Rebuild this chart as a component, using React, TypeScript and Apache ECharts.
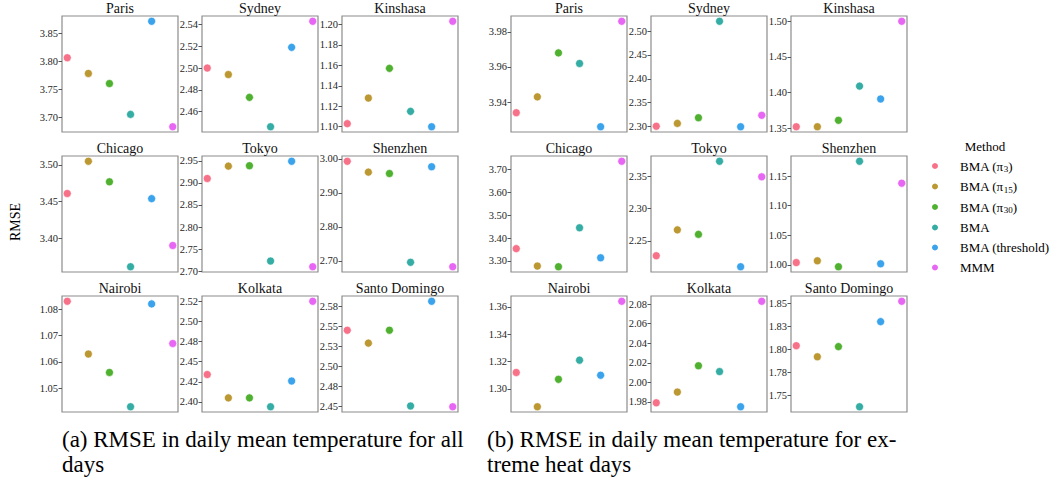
import React, { useEffect, useRef } from "react";
import * as echarts from "echarts";

const methods = ["BMA (π3)", "BMA (π15)", "BMA (π30)", "BMA", "BMA (threshold)", "MMM"];
const colors = ["#f77189", "#bb9832", "#50b131", "#36ada4", "#3ba3ec", "#e866f4"];
const cities = ["Paris", "Sydney", "Kinshasa", "Chicago", "Tokyo", "Shenzhen", "Nairobi", "Kolkata", "Santo Domingo"];

// (a) RMSE, all days — order follows `methods`
const parisAll = [3.806, 3.778, 3.76, 3.705, 3.871, 3.683];
const sydneyAll = [2.5, 2.494, 2.473, 2.446, 2.519, 2.543];
const kinshasaAll = [1.103, 1.128, 1.157, 1.115, 1.1, 1.203];
const chicagoAll = [3.461, 3.505, 3.477, 3.361, 3.454, 3.39];
const tokyoAll = [2.91, 2.938, 2.939, 2.723, 2.949, 2.71];
const shenzhenAll = [2.993, 2.961, 2.957, 2.696, 2.977, 2.683];
const nairobiAll = [1.083, 1.063, 1.056, 1.043, 1.082, 1.067];
const kolkataAll = [2.434, 2.405, 2.405, 2.394, 2.426, 2.525];
const santoDomingoAll = [2.545, 2.529, 2.545, 2.451, 2.581, 2.45];

// (b) RMSE, extreme heat days
const parisHeat = [3.934, 3.943, 3.968, 3.962, 3.926, 3.986];
const sydneyHeat = [2.3, 2.306, 2.318, 2.521, 2.299, 2.323];
const kinshasaHeat = [1.352, 1.352, 1.361, 1.409, 1.391, 1.5];
const chicagoHeat = [3.354, 3.278, 3.275, 3.445, 3.314, 3.735];
const tokyoHeat = [2.227, 2.267, 2.26, 2.373, 2.21, 2.349];
const shenzhenHeat = [1.004, 1.007, 0.997, 1.175, 1.002, 1.138];
const nairobiHeat = [1.312, 1.287, 1.307, 1.321, 1.31, 1.364];
const kolkataHeat = [1.979, 1.99, 2.017, 2.011, 1.975, 2.083];
const santoDomingoHeat = [1.804, 1.792, 1.803, 1.738, 1.83, 1.852];

// tick values per panel
const ticksAll = [
  [3.7, 3.75, 3.8, 3.85],
  [2.46, 2.48, 2.5, 2.52, 2.54],
  [1.1, 1.12, 1.14, 1.16, 1.18, 1.2],
  [3.4, 3.45, 3.5],
  [2.7, 2.75, 2.8, 2.85, 2.9, 2.95],
  [2.7, 2.8, 2.9, 3.0],
  [1.05, 1.06, 1.07, 1.08],
  [2.4, 2.425, 2.45, 2.475, 2.5, 2.525],
  [2.45, 2.475, 2.5, 2.525, 2.55, 2.575],
];
const tickLabelsAll = [
  ["3.70", "3.75", "3.80", "3.85"],
  ["2.46", "2.48", "2.50", "2.52", "2.54"],
  ["1.10", "1.12", "1.14", "1.16", "1.18", "1.20"],
  ["3.40", "3.45", "3.50"],
  ["2.70", "2.75", "2.80", "2.85", "2.90", "2.95"],
  ["2.70", "2.80", "2.90", "3.00"],
  ["1.05", "1.06", "1.07", "1.08"],
  ["2.40", "2.42", "2.45", "2.48", "2.50", "2.52"],
  ["2.45", "2.48", "2.50", "2.53", "2.55", "2.58"],
];
const ticksHeat = [
  [3.94, 3.96, 3.98],
  [2.3, 2.35, 2.4, 2.45, 2.5],
  [1.35, 1.4, 1.45, 1.5],
  [3.3, 3.4, 3.5, 3.6, 3.7],
  [2.25, 2.3, 2.35],
  [1.0, 1.05, 1.1, 1.15],
  [1.3, 1.32, 1.34, 1.36],
  [1.98, 2.0, 2.02, 2.04, 2.06, 2.08],
  [1.75, 1.775, 1.8, 1.825, 1.85],
];
const tickLabelsHeat = [
  ["3.94", "3.96", "3.98"],
  ["2.30", "2.35", "2.40", "2.45", "2.50"],
  ["1.35", "1.40", "1.45", "1.50"],
  ["3.30", "3.40", "3.50", "3.60", "3.70"],
  ["2.25", "2.30", "2.35"],
  ["1.00", "1.05", "1.10", "1.15"],
  ["1.30", "1.32", "1.34", "1.36"],
  ["1.98", "2.00", "2.02", "2.04", "2.06", "2.08"],
  ["1.75", "1.78", "1.80", "1.83", "1.85"],
];

const FONT = "Liberation Serif";

const App: React.FC = () => {
  const ref = useRef<HTMLDivElement>(null);

  useEffect(() => {
    if (!ref.current) return;
    const chart = echarts.init(ref.current, undefined, { renderer: "svg" });

    const allData = [parisAll, sydneyAll, kinshasaAll, chicagoAll, tokyoAll, shenzhenAll, nairobiAll, kolkataAll, santoDomingoAll];
    const heatData = [parisHeat, sydneyHeat, kinshasaHeat, chicagoHeat, tokyoHeat, shenzhenHeat, nairobiHeat, kolkataHeat, santoDomingoHeat];

    const groupLefts = [
      [62, 202, 342],
      [511, 651, 791],
    ];
    const rowTops = [16, 156, 296];
    const W = 116;
    const H = 116;

    const panels: any[] = [];
    [allData, heatData].forEach((group, gi) => {
      group.forEach((vals, ci) => {
        panels.push({
          vals,
          city: cities[ci],
          left: groupLefts[gi][ci % 3],
          top: rowTops[Math.floor(ci / 3)],
          ticks: gi === 0 ? ticksAll[ci] : ticksHeat[ci],
          labels: gi === 0 ? tickLabelsAll[ci] : tickLabelsHeat[ci],
        });
      });
    });

    const grid: any[] = [];
    const xAxis: any[] = [];
    const yAxis: any[] = [];
    const series: any[] = [];
    const title: any[] = [];

    panels.forEach((p, i) => {
      grid.push({
        left: p.left,
        top: p.top,
        width: W,
        height: H,
        show: true,
        borderColor: "#8c8c8c",
        borderWidth: 1.2,
        backgroundColor: "transparent",
      });
      xAxis.push({
        type: "value",
        gridIndex: i,
        min: 0.75,
        max: 6.25,
        show: false,
        splitLine: { show: false },
      });
      const dmin = Math.min(...p.vals);
      const dmax = Math.max(...p.vals);
      const pad = (dmax - dmin) * 0.05;
      const ticks = p.ticks;
      const labels = p.labels;
      yAxis.push({
        type: "value",
        gridIndex: i,
        min: dmin - pad,
        max: dmax + pad,
        axisLine: { show: false },
        splitLine: { show: false },
        axisTick: {
          show: true,
          customValues: ticks,
          length: 3.5,
          lineStyle: { color: "#555", width: 1 },
        },
        axisLabel: {
          show: true,
          customValues: ticks,
          margin: 4,
          fontFamily: FONT,
          fontSize: 10.5,
          color: "#262626",
          formatter: (v: number) => {
            const idx = ticks.findIndex((t: number) => Math.abs(t - v) < 1e-7);
            return idx >= 0 ? labels[idx] : "";
          },
        },
      });
      title.push({
        text: p.city,
        left: p.left + W / 2,
        top: p.top - 15,
        textAlign: "center",
        padding: 0,
        textStyle: { fontFamily: FONT, fontSize: 14, fontWeight: "normal", color: "#111" },
      });
      methods.forEach((m, mi) => {
        series.push({
          type: "scatter",
          name: m,
          xAxisIndex: i,
          yAxisIndex: i,
          clip: false,
          symbolSize: 8,
          itemStyle: { color: colors[mi], borderColor: "#fff", borderWidth: 0.6, opacity: 1 },
          data: [[mi + 1, p.vals[mi]]],
        });
      });
    });

    const option: any = {
      animation: false,
      backgroundColor: "#fff",
      color: colors,
      textStyle: { fontFamily: FONT },
      title,
      grid,
      xAxis,
      yAxis,
      series,
      legend: {
        orient: "vertical",
        left: 930,
        top: 159,
        data: methods.map((m) => ({ name: m, icon: "circle" })),
        itemWidth: 40,
        itemHeight: 8,
        itemGap: 6,
        padding: 0,
        selectedMode: false,
        formatter: (name: string) => name.replace(/π(\d+)/, "π{s|$1}"),
        textStyle: {
          fontFamily: FONT,
          fontSize: 13,
          color: "#000",
          lineHeight: 14,
          rich: {
            s: { fontFamily: FONT, fontSize: 9, padding: [6, 0, 0, 0], color: "#000" },
          },
        },
      },
      graphic: [
        {
          type: "text",
          x: 985,
          y: 146,
          style: { text: "Method", fontFamily: FONT, fontSize: 13, fill: "#000", align: "center", verticalAlign: "middle" },
        },
        {
          type: "text",
          x: 15,
          y: 222,
          rotation: Math.PI / 2,
          style: { text: "RMSE", fontFamily: FONT, fontSize: 14, fill: "#000", align: "center", verticalAlign: "middle" },
        },
        {
          type: "text",
          x: 62,
          y: 427,
          style: {
            text: "(a) RMSE in daily mean temperature for all\ndays",
            fontFamily: FONT,
            fontSize: 23,
            lineHeight: 25,
            fill: "#000",
          },
        },
        {
          type: "text",
          x: 487,
          y: 427,
          style: {
            text: "(b) RMSE in daily mean temperature for ex-\ntreme heat days",
            fontFamily: FONT,
            fontSize: 23,
            lineHeight: 25,
            fill: "#000",
          },
        },
      ],
    };

    chart.setOption(option);
    return () => chart.dispose();
  }, []);

  return <div ref={ref} style={{ position: "fixed", left: 0, top: 0, width: 1053, height: 483 }} />;
};

export default App;
